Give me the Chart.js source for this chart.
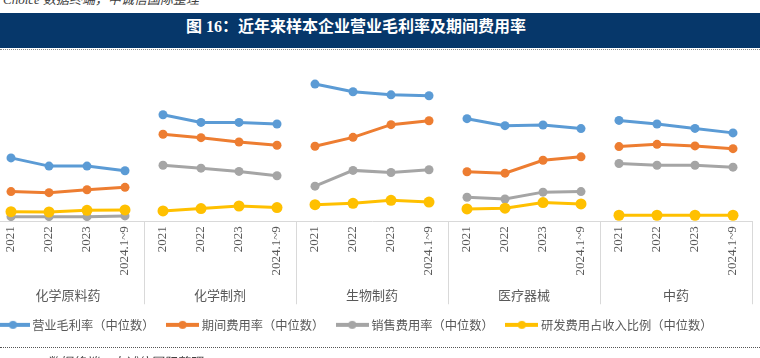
<!DOCTYPE html>
<html><head><meta charset="utf-8">
<script src="https://cdn.jsdelivr.net/npm/chart.js@4"></script>
<style>
html,body{margin:0;padding:0;width:760px;height:358px;overflow:hidden;background:#fff;}
body{position:relative;}
#src1{position:absolute;left:3px;top:-11px;font:italic 13px "Liberation Serif","Noto Sans CJK SC";color:#404040;white-space:nowrap;}
#bar{position:absolute;left:0;top:13px;width:760px;height:35px;background:#06376a;}
#title{position:absolute;left:0;top:13px;width:712px;height:35px;line-height:35px;text-align:center;color:#fff;font:bold 16px "Liberation Serif","Noto Sans CJK SC";white-space:nowrap;}
#dot1{position:absolute;left:0;top:49px;width:760px;border-top:1px dotted #8a8a8a;}
#dot2{position:absolute;left:0;top:347px;width:760px;border-top:1px dotted #555;}
#src2{position:absolute;left:6px;top:352px;font:italic 13px "Liberation Serif","Noto Sans CJK SC";color:#404040;white-space:nowrap;}
#cv{position:absolute;left:-8px;top:0;}
</style></head>
<body>
<div id="src1">Choice 数据终端，中诚信国际整理</div>
<div id="bar"></div>
<div id="title">图 16：近年来样本企业营业毛利率及期间费用率</div>
<div id="dot1"></div>
<canvas id="cv" width="768" height="358"></canvas>
<div id="dot2"></div>
<div id="src2">Choice 数据终端，中诚信国际整理</div>
<script>
const groups = ['化学原料药','化学制剂','生物制药','医疗器械','中药'];
const periods = ['2021','2022','2023','2024.1~9'];
const seriesNames = ['营业毛利率（中位数）','期间费用率（中位数）','销售费用率（中位数）','研发费用占收入比例（中位数）'];
const seriesColors = ['#5B9BD5','#ED7D31','#A5A5A5','#FFC000'];
// values in %, ordered group by group (4 periods each)
const grossMargin    = [37.0,32.2,32.2,29.5, 62.2,57.7,57.7,56.8, 80.1,75.6,73.8,73.3, 59.9,55.8,56.2,54.1, 58.9,56.8,54.2,51.6];
const periodExpense  = [17.3,16.7,18.4,19.8, 50.8,48.8,46.3,44.4, 43.8,49.0,56.4,58.7, 28.9,28.1,35.6,37.6, 43.6,44.9,44.0,42.4];
const sellingExpense = [2.7,2.7,2.7,3.1, 32.7,31.0,29.1,26.6, 20.5,29.7,28.5,30.1, 14.0,13.0,17.0,17.3, 33.7,32.7,32.7,31.6];
const rdRatio        = [5.6,5.4,6.4,6.6, 6.0,7.4,8.9,8.0, 9.7,10.5,12.2,11.2, 7.2,7.6,10.9,10.1, 3.5,3.5,3.5,3.5];

const labels = groups.flatMap(() => periods);
const seriesData = [grossMargin, periodExpense, sellingExpense, rdRatio];
const radii = [4.5,4.5,4.5,5.5];
const orders = [4,3,2,1];

function legendIcon(color){
  const c = document.createElement('canvas'); c.width = 33; c.height = 10;
  const g = c.getContext('2d');
  g.strokeStyle = color; g.lineWidth = 4;
  g.beginPath(); g.moveTo(0,5); g.lineTo(33,5); g.stroke();
  g.fillStyle = color; g.beginPath(); g.arc(16.5,5,4,0,Math.PI*2); g.fill();
  return c;
}
const icons = seriesColors.map(legendIcon);

const datasets = seriesNames.map((name,i) => ({
  label: name,
  data: seriesData[i],
  borderColor: seriesColors[i],
  backgroundColor: seriesColors[i],
  pointBackgroundColor: seriesColors[i],
  pointBorderColor: seriesColors[i],
  pointRadius: radii[i],
  pointBorderWidth: 0,
  borderWidth: 3,
  tension: 0,
  order: orders[i],
  segment: { borderColor: ctx => (ctx.p0DataIndex % periods.length === periods.length-1) ? 'rgba(0,0,0,0)' : undefined }
}));

const groupAxis = {
  id: 'groupAxis',
  afterLayout(chart){ chart.legend.left -= 7; },
  afterDraw(chart){
    const xs = chart.scales.x, ctx = chart.ctx, bottom = chart.chartArea.bottom;
    const gw = xs.width / groups.length;
    ctx.save();
    ctx.strokeStyle = '#d9d9d9'; ctx.lineWidth = 1;
    for (let g = 0; g <= groups.length; g++){
      const px = Math.round(xs.left + g*gw) + 0.5;
      ctx.beginPath(); ctx.moveTo(px, bottom); ctx.lineTo(px, bottom + 83); ctx.stroke();
    }
    ctx.fillStyle = '#595959';
    ctx.font = '13px "Noto Sans CJK SC"';
    ctx.textAlign = 'center'; ctx.textBaseline = 'middle';
    groups.forEach((name,g) => ctx.fillText(name, xs.left + (g+0.5)*gw, bottom + 74));
    ctx.restore();
  }
};

new Chart(document.getElementById('cv'), {
  type: 'line',
  data: { labels, datasets },
  plugins: [groupAxis],
  options: {
    responsive: false,
    animation: false,
    devicePixelRatio: 1,
    layout: { autoPadding: false, padding: { top: 50, left: 0, right: 8, bottom: 17 } },
    plugins: {
      tooltip: { enabled: false },
      title: { display: false },
      legend: {
        position: 'bottom', align: 'start',
        labels: {
          usePointStyle: true, pointStyleWidth: 26, padding: 15,
          color: '#595959',
          font: { family: '"Noto Sans CJK SC"', size: 12.25 },
          generateLabels: chart => chart.data.datasets.map((ds,i) => ({
            text: ds.label, pointStyle: icons[i], fillStyle: ds.borderColor,
            strokeStyle: ds.borderColor, lineWidth: 0, hidden: false, datasetIndex: i, fontColor: '#595959'
          }))
        }
      }
    },
    scales: {
      x: {
        type: 'category', offset: true,
        grid: { display: true, drawOnChartArea: false, drawTicks: false, color: 'rgba(0,0,0,0)' },
        border: { display: true, color: '#d9d9d9', width: 1 },
        ticks: { autoSkip: false, maxRotation: 90, minRotation: 90, padding: 5, color: '#595959',
                 font: { family: '"Liberation Serif"', size: 13 } },
        afterFit: s => { s.height = 82.5; s.paddingLeft = 0; s.paddingRight = 0; }
      },
      y: { display: false, min: 0, max: 100 }
    }
  }
});
</script>
</body></html>
